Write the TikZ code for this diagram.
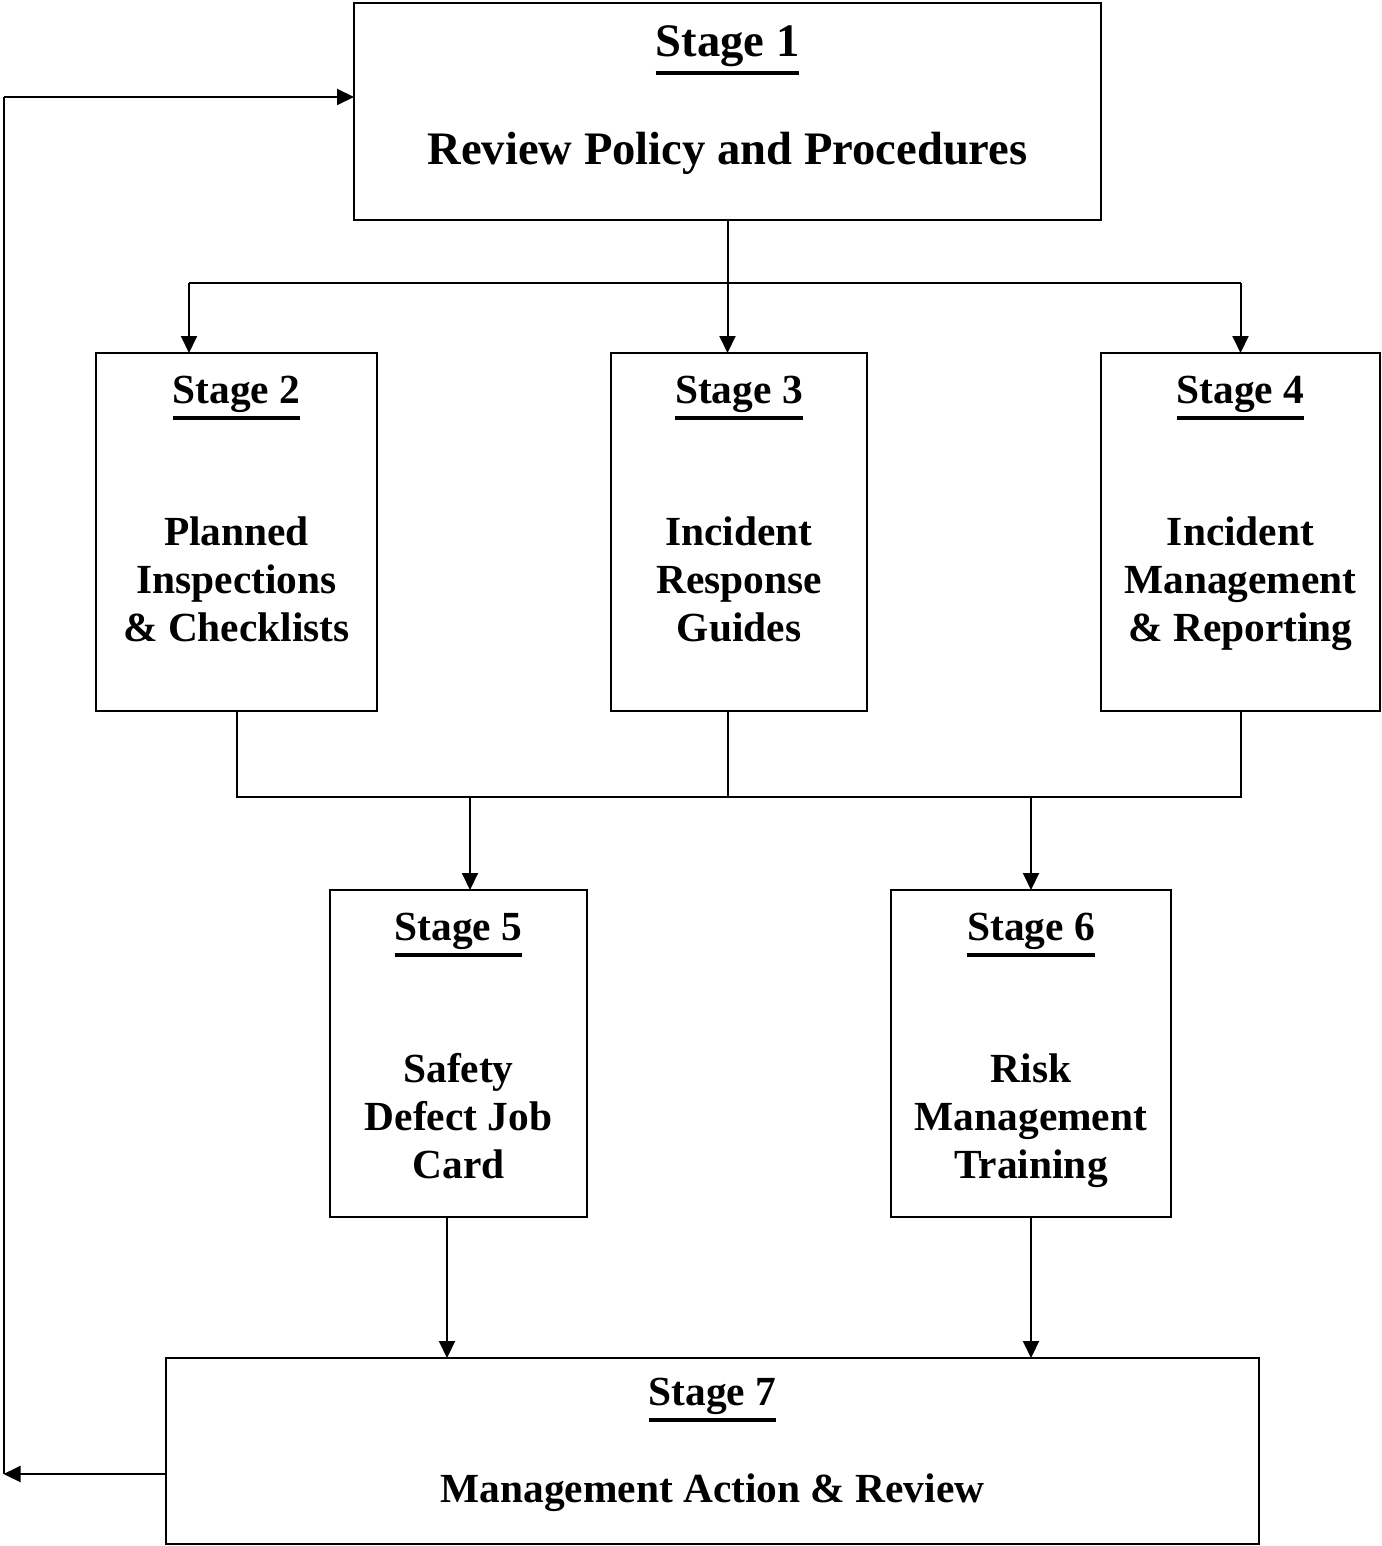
\documentclass[tikz,border=0pt]{standalone}
\usepackage{fontspec}
\setmainfont{Liberation Serif}
\usetikzlibrary{arrows.meta,positioning}

% underlined stage heading
\newsavebox{\headbox}
\newcommand{\stageul}[1]{\sbox{\headbox}{#1}\vtop{\copy\headbox\kern1.8pt\hrule height2pt}}

\tikzset{
  stagebox/.style={draw, line width=1pt, inner sep=0pt, outer sep=0pt},
  head/.style={anchor=base, inner sep=0pt, font=\bfseries\fontsize{20.7}{24}\selectfont},
  body/.style={anchor=base, inner sep=0pt, align=center, font=\bfseries\fontsize{20.7}{24}\selectfont},
  big/.style={font=\bfseries\fontsize{23.3}{28}\selectfont},
  link/.style={line width=1pt},
  flow/.style={line width=1pt, -{Triangle[length=8.5pt,width=8pt]}},
}

\begin{document}
\begin{tikzpicture}[x=0.5pt,y=-0.5pt]
\useasboundingbox (0,0) rectangle (1381,1546);

% boxes
\node[stagebox, minimum width=373.5pt, minimum height=108.5pt] (s1) at (727.5,111.5) {};
\node[stagebox, minimum width=140.5pt, minimum height=179pt] (s2) at (236.5,532) {};
\node[stagebox, minimum width=128pt, minimum height=179pt] (s3) at (739,532) {};
\node[stagebox, minimum width=139.5pt, minimum height=179pt] (s4) at (1240.5,532) {};
\node[stagebox, minimum width=128.5pt, minimum height=163.5pt] (s5) at (458.5,1053.5) {};
\node[stagebox, minimum width=140pt, minimum height=163.5pt] (s6) at (1031,1053.5) {};
\node[stagebox, minimum width=546.5pt, minimum height=93pt] (s7) at (712.5,1451) {};

% texts (multi-line bodies sit on their last baseline)
\node[head, big] (h1) at ([yshift=-27pt]s1.north) {\stageul{Stage 1}};
\node[body, big] (t1) at ([yshift=-81pt]s1.north) {Review Policy and Procedures};
\node[head] (h2) at ([yshift=-25pt]s2.north) {\stageul{Stage 2}};
\node[body] (t2) at ([yshift=-144pt]s2.north) {Planned\\Inspections\\\& Checklists};
\node[head] (h3) at ([yshift=-25pt]s3.north) {\stageul{Stage 3}};
\node[body] (t3) at ([yshift=-144pt]s3.north) {Incident\\Response\\Guides};
\node[head] (h4) at ([yshift=-25pt]s4.north) {\stageul{Stage 4}};
\node[body] (t4) at ([yshift=-144pt]s4.north) {Incident\\Management\\\& Reporting};
\node[head] (h5) at ([yshift=-25pt]s5.north) {\stageul{Stage 5}};
\node[body] (t5) at ([yshift=-144pt]s5.north) {Safety\\Defect Job\\Card};
\node[head] (h6) at ([yshift=-25pt]s6.north) {\stageul{Stage 6}};
\node[body] (t6) at ([yshift=-144pt]s6.north) {Risk\\Management\\Training};
\node[head] (h7) at ([yshift=-23.5pt]s7.north) {\stageul{Stage 7}};
\node[body] (t7) at ([yshift=-72pt]s7.north) {Management Action \& Review};

% split below stage 1
\coordinate (split) at (0,283);
\coordinate (b2) at (189,283);
\coordinate (b4) at (s4.north |- split);
\draw[flow] (s1.south) -- (s1.south |- s3.north);
\draw[link] (b2) -- (b4);
\draw[flow] (b2) -- (b2 |- s2.north);
\draw[flow] (b4) -- (s4.north);

% merge into stages 5 and 6
\coordinate (merge) at (0,797);
\coordinate (m5) at (470,797);
\coordinate (m6) at (s6.north |- merge);
\draw[link] (s2.south) -- (s2.south |- merge) -- (s4.south |- merge) -- (s4.south);
\draw[link] (s1.south |- s3.south) -- (s1.south |- merge);
\draw[flow] (m5) -- (m5 |- s5.north);
\draw[flow] (m6) -- (s6.north);

% down to stage 7
\coordinate (d5) at ([xshift=-5.75pt]s5.south);
\draw[flow] (d5) -- (d5 |- s7.north);
\draw[flow] (s6.south) -- (s6.south |- s7.north);

% feedback loop
\coordinate (back) at ([yshift=-11.5pt]s7.west);
\coordinate (in1) at ([yshift=7.25pt]s1.west);
\coordinate (rail) at (3.5,0);
\draw[flow] (back) -- (back -| rail);
\draw[link] (back -| rail) -- (rail |- in1);
\draw[flow] (rail |- in1) -- (in1);
\end{tikzpicture}
\end{document}
